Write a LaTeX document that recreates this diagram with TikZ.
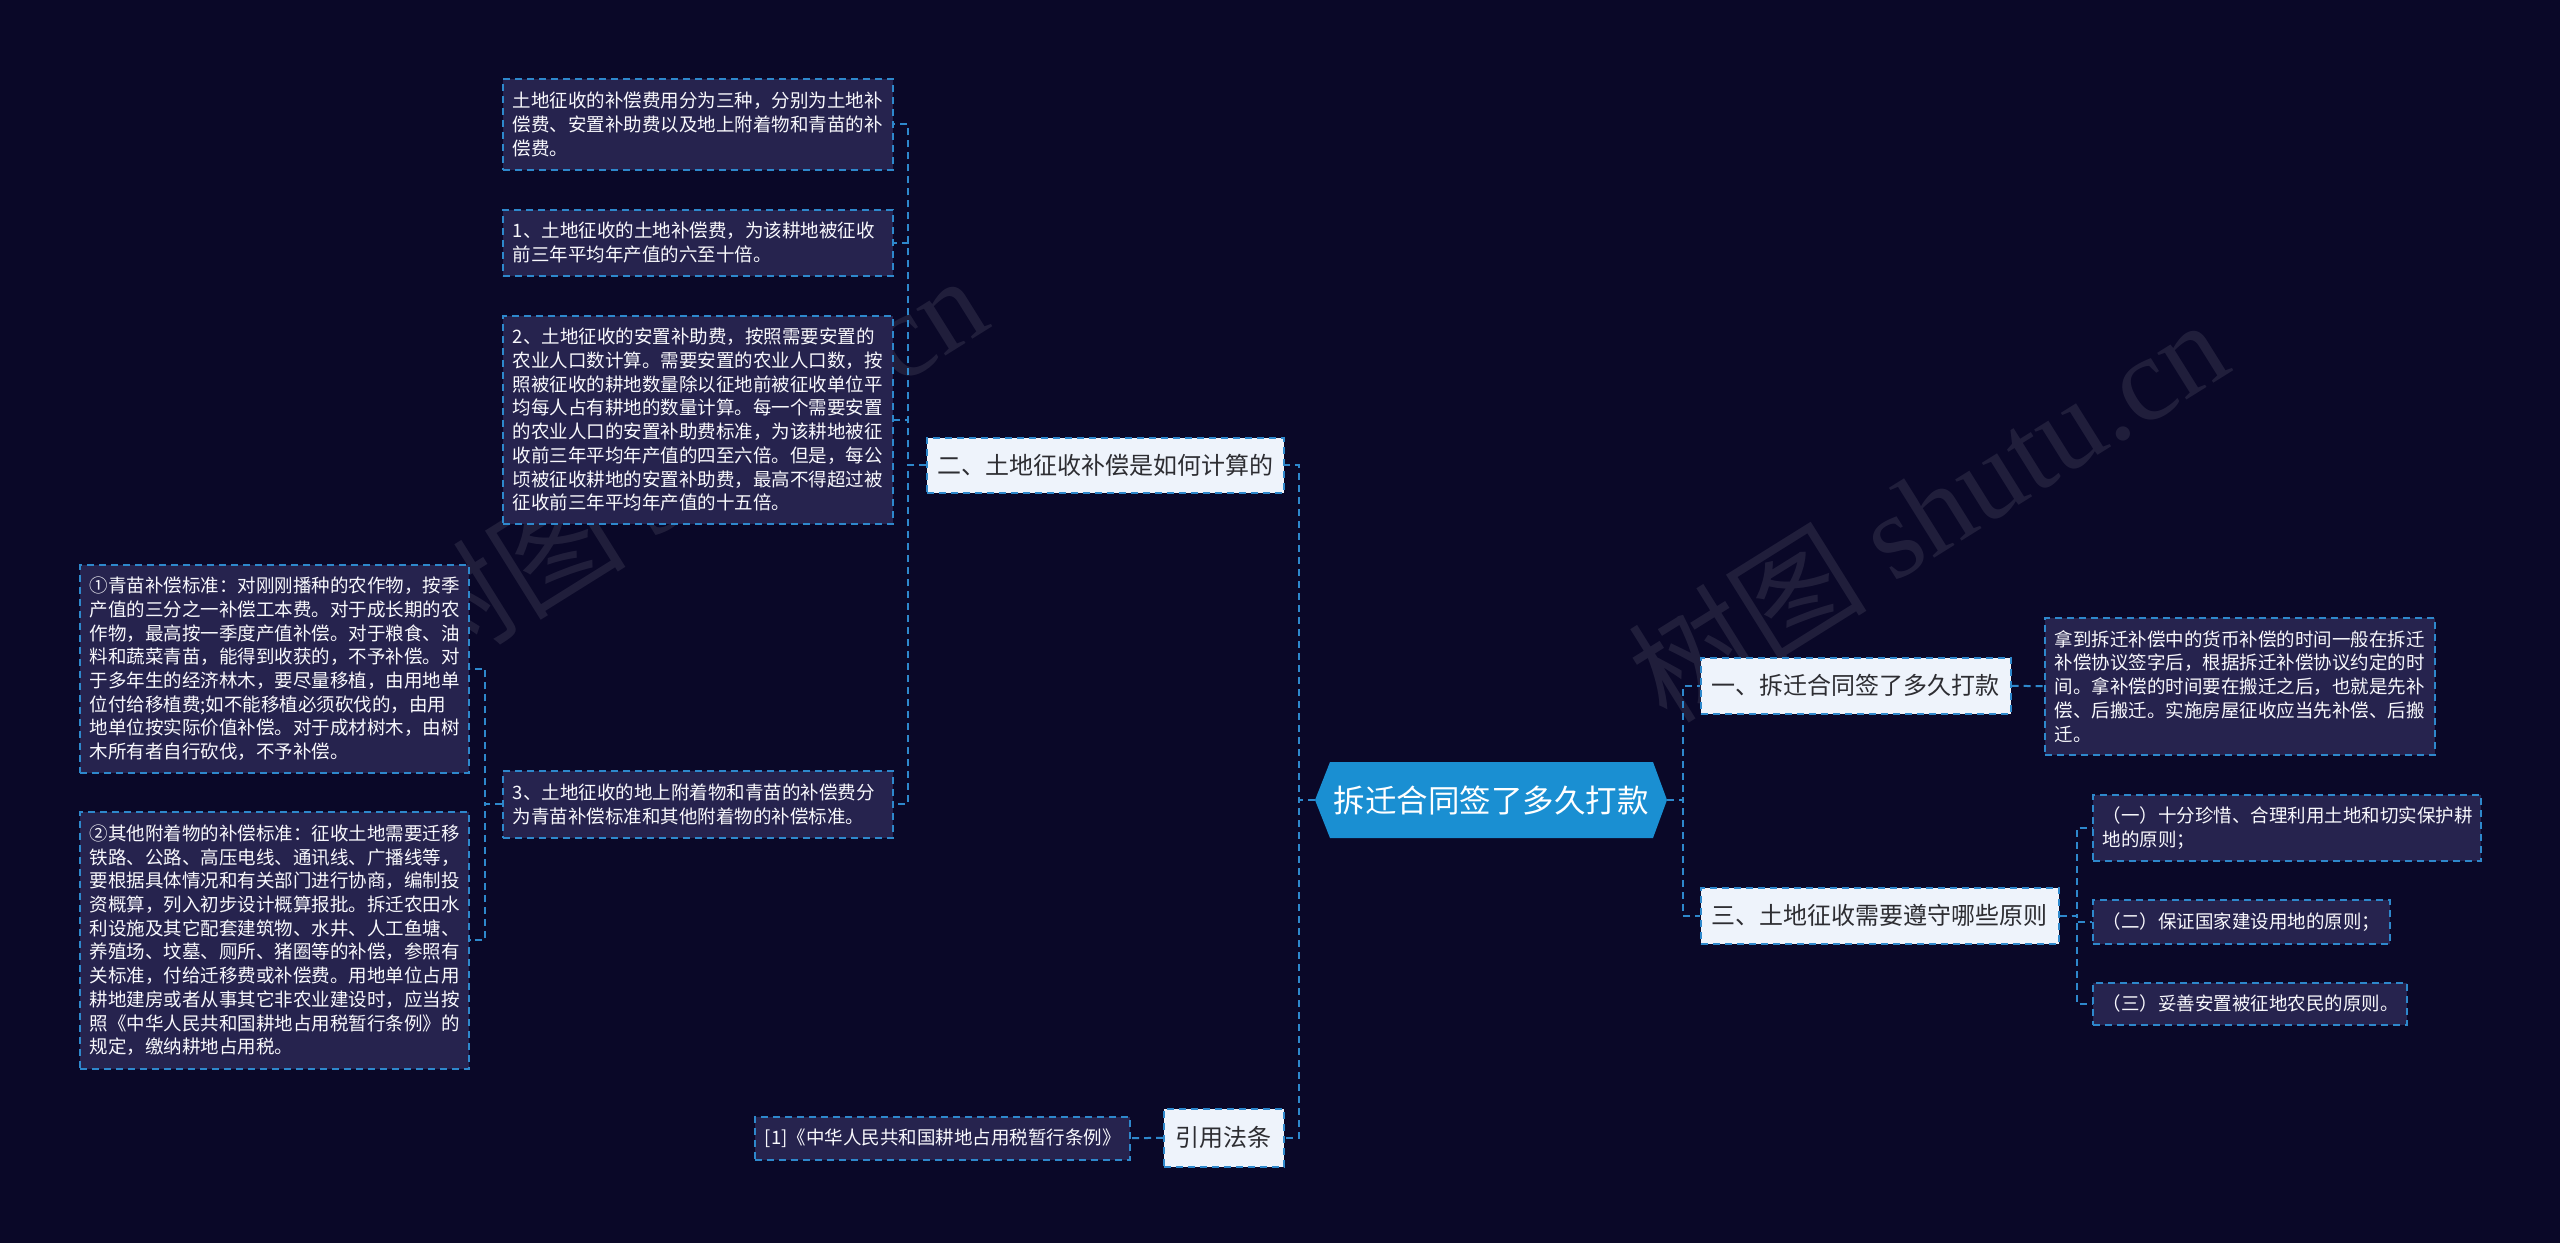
\documentclass[tikz,border=0pt]{standalone}
\usepackage{fontspec}
\setmainfont{Noto Sans CJK SC}
\newfontfamily\wmlatin{Liberation Serif}
\definecolor{bgnavy}{RGB}{10,8,40}
\definecolor{lineblue}{RGB}{46,136,204}
\definecolor{leaffill}{RGB}{38,35,78}
\definecolor{leaftext}{RGB}{248,248,252}
\definecolor{topicfill}{RGB}{238,243,251}
\definecolor{topictext}{RGB}{45,45,50}
\definecolor{rootblue}{RGB}{26,143,210}
\tikzset{
  conn/.style={draw=lineblue, line width=2pt, dash pattern=on 7pt off 5pt},
  leafbox/.style={draw=lineblue, line width=1.5pt, dash pattern=on 7pt off 5pt, fill=leaffill, text=leaftext,
    font=\fontsize{18.5}{23.7}\selectfont, align=left, inner xsep=10pt, inner ysep=0pt, anchor=north west},
  topicbox/.style={draw=lineblue, line width=1.5pt, dash pattern=on 7pt off 5pt, fill=topicfill, text=topictext,
    font=\fontsize{24}{28}\selectfont, inner sep=0pt, anchor=north west},
  rootbox/.style={text=white, font=\fontsize{31.5}{36}\selectfont, inner sep=0pt,
    minimum width=352pt, minimum height=76pt,
    path picture={\fill[rootblue] (path picture bounding box.west)
      -- ([xshift=15pt]path picture bounding box.north west)
      -- ([xshift=-14pt]path picture bounding box.north east)
      -- (path picture bounding box.east)
      -- ([xshift=-14pt]path picture bounding box.south east)
      -- ([xshift=15pt]path picture bounding box.south west) -- cycle;}},
  watermark/.style={text=white, opacity=0.09, rotate=32, font=\fontsize{120}{120}\selectfont}
}
\begin{document}
\begin{tikzpicture}[x=1pt,y=-1pt]
\useasboundingbox (0,0) rectangle (2560,1243);
\fill[bgnavy] (0,0) rectangle (2560,1243);

% watermarks
\node[watermark] (wm1) at (686,465) {树图 {\wmlatin shutu.cn}};
\node[watermark] (wm2) at (1927,509) {树图 {\wmlatin shutu.cn}};

% root
\node[rootbox] (root) at (1491,800) {拆迁合同签了多久打款};

% topics
\node[topicbox, minimum width=357pt, minimum height=55pt] (n2) at (926,437) {二、土地征收补偿是如何计算的};
\node[topicbox, minimum width=310pt, minimum height=56pt] (n1) at (1700,657) {一、拆迁合同签了多久打款};
\node[topicbox, minimum width=358pt, minimum height=56pt] (n3) at (1700,887) {三、土地征收需要遵守哪些原则};
\node[topicbox, minimum width=120pt, minimum height=58pt] (ref) at (1163,1108) {引用法条};

% leaves of n2
\node[leafbox, text width=370pt, minimum height=91pt] (a1) at (502,78)
 {土地征收的补偿费用分为三种，分别为土地补\\偿费、安置补助费以及地上附着物和青苗的补\\偿费。};
\node[leafbox, text width=370pt, minimum height=66pt] (a2) at (502,209)
 {1、土地征收的土地补偿费，为该耕地被征收\\前三年平均年产值的六至十倍。};
\node[leafbox, text width=370pt, minimum height=208pt] (a3) at (502,315)
 {2、土地征收的安置补助费，按照需要安置的\\农业人口数计算。需要安置的农业人口数，按\\照被征收的耕地数量除以征地前被征收单位平\\均每人占有耕地的数量计算。每一个需要安置\\的农业人口的安置补助费标准，为该耕地被征\\收前三年平均年产值的四至六倍。但是，每公\\顷被征收耕地的安置补助费，最高不得超过被\\征收前三年平均年产值的十五倍。};
\node[leafbox, text width=370pt, minimum height=67pt] (a4) at (502,770)
 {3、土地征收的地上附着物和青苗的补偿费分\\为青苗补偿标准和其他附着物的补偿标准。};

% leaves of a4
\node[leafbox, text width=369pt, minimum height=208pt] (b1) at (79,564)
 {①青苗补偿标准：对刚刚播种的农作物，按季\\产值的三分之一补偿工本费。对于成长期的农\\作物，最高按一季度产值补偿。对于粮食、油\\料和蔬菜青苗，能得到收获的，不予补偿。对\\于多年生的经济林木，要尽量移植，由用地单\\位付给移植费;如不能移植必须砍伐的，由用\\地单位按实际价值补偿。对于成材树木，由树\\木所有者自行砍伐，不予补偿。};
\node[leafbox, text width=369pt, minimum height=257pt] (b2) at (79,811)
 {②其他附着物的补偿标准：征收土地需要迁移\\铁路、公路、高压电线、通讯线、广播线等，\\要根据具体情况和有关部门进行协商，编制投\\资概算，列入初步设计概算报批。拆迁农田水\\利设施及其它配套建筑物、水井、人工鱼塘、\\养殖场、坟墓、厕所、猪圈等的补偿，参照有\\关标准，付给迁移费或补偿费。用地单位占用\\耕地建房或者从事其它非农业建设时，应当按\\照《中华人民共和国耕地占用税暂行条例》的\\规定，缴纳耕地占用税。};

% leaf of ref
\node[leafbox, text width=355pt, minimum height=43pt] (r1) at (754,1116)
 {[1]《中华人民共和国耕地占用税暂行条例》};

% leaf of n1
\node[leafbox, text width=370pt, minimum height=137pt] (c1) at (2044,617)
 {拿到拆迁补偿中的货币补偿的时间一般在拆迁\\补偿协议签字后，根据拆迁补偿协议约定的时\\间。拿补偿的时间要在搬迁之后，也就是先补\\偿、后搬迁。实施房屋征收应当先补偿、后搬\\迁。};

% leaves of n3
\node[leafbox, text width=368pt, minimum height=66pt] (d1) at (2092,794)
 {（一）十分珍惜、合理利用土地和切实保护耕\\地的原则；};
\node[leafbox, text width=277pt, minimum height=44pt] (d2) at (2092,899)
 {（二）保证国家建设用地的原则；};
\node[leafbox, text width=294pt, minimum height=42pt] (d3) at (2092,982)
 {（三）妥善安置被征地农民的原则。};

% connectors
\draw[conn] (root.west) -- ++(-16,0) |- (n2.east);
\draw[conn] (root.west) -- ++(-16,0) |- (ref.east);
\draw[conn] (root.east) -- ++(16,0) |- (n1.west);
\draw[conn] (root.east) -- ++(16,0) |- (n3.west);

\draw[conn] (n2.west) -- ++(-18,0) |- (a1.east);
\draw[conn] (n2.west) -- ++(-18,0) |- (a2.east);
\draw[conn] (n2.west) -- ++(-18,0) |- (a3.east);
\draw[conn] (n2.west) -- ++(-18,0) |- (a4.east);

\draw[conn] (a4.west) -- ++(-17,0) |- (b1.east);
\draw[conn] (a4.west) -- ++(-17,0) |- (b2.east);

\draw[conn] (ref.west) -- (r1.east);
\draw[conn] (n1.east) -- (c1.west);

\draw[conn] (n3.east) -- ++(17,0) |- (d1.west);
\draw[conn] (n3.east) -- ++(17,0) |- (d2.west);
\draw[conn] (n3.east) -- ++(17,0) |- (d3.west);
\end{tikzpicture}
\end{document}
